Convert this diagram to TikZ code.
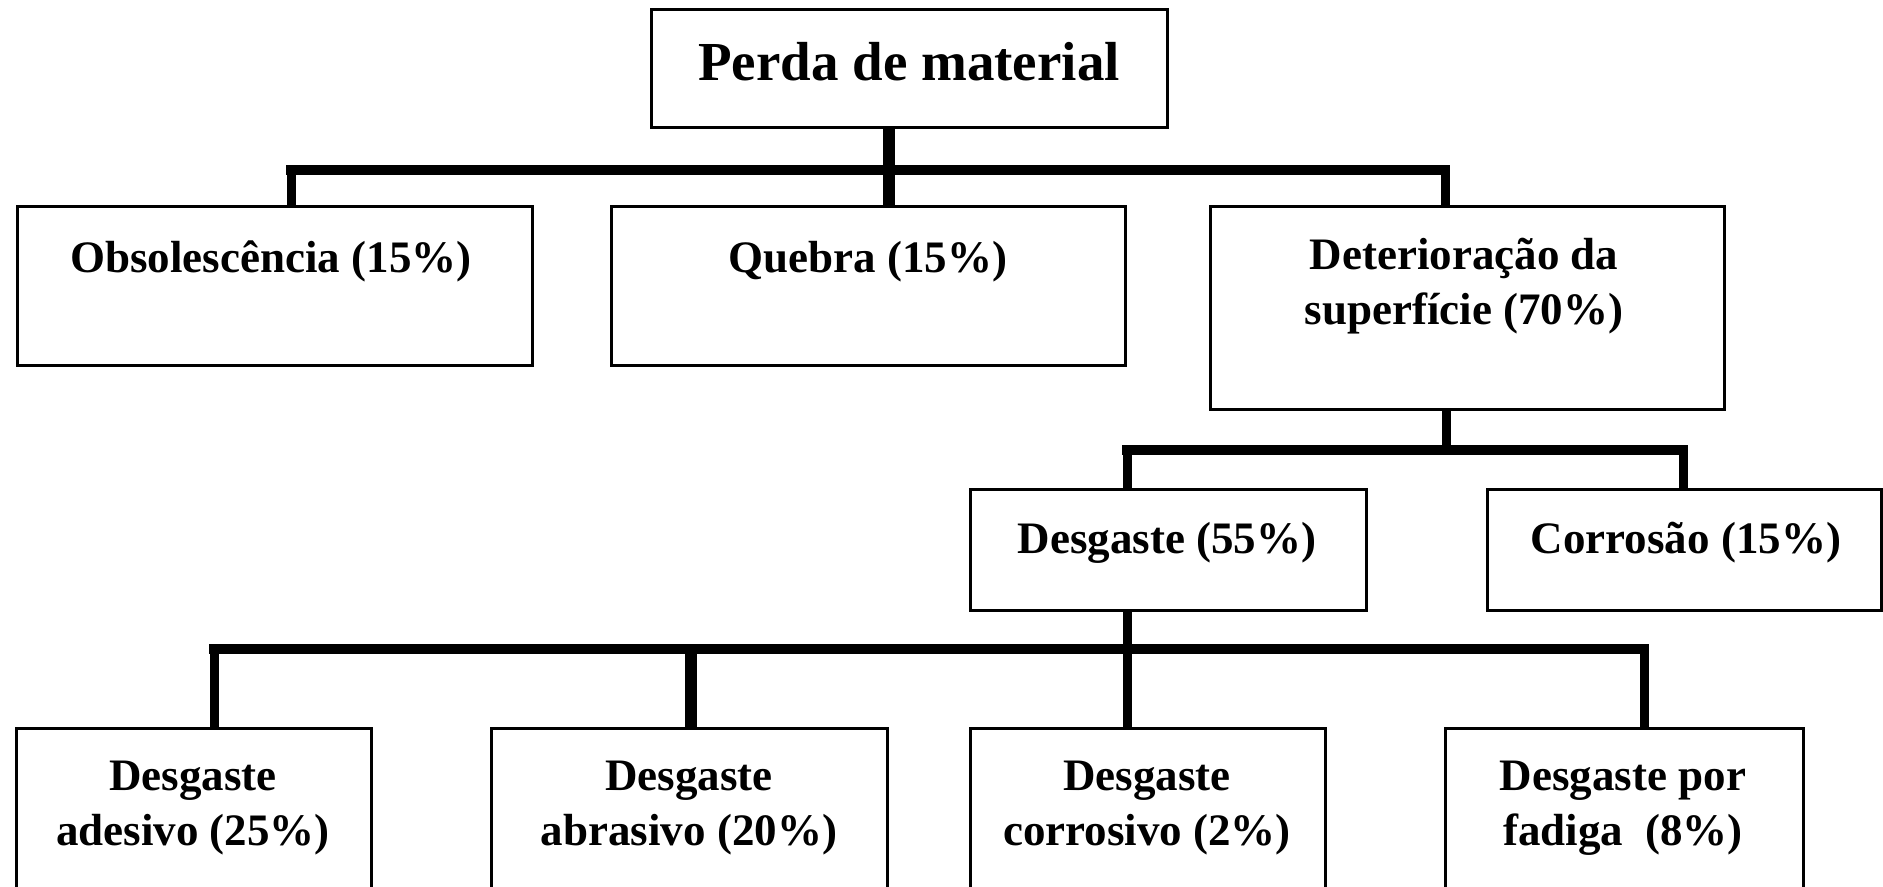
\documentclass[tikz,border=0pt]{standalone}
\usepackage{fontspec}
\setmainfont{Liberation Serif}
\newcommand\twoline[2]{\begin{tabular}[t]{@{}c@{}}#1\\#2\end{tabular}}
\begin{document}
\begin{tikzpicture}[x=0.5pt,y=-0.5pt,
  box/.style={draw=black, line width=1.5pt, inner sep=0pt, rectangle},
  lbl/.style={anchor=base, inner sep=0pt, font=\fontsize{22.5}{27.5}\selectfont\bfseries},
  ttl/.style={anchor=base, inner sep=0pt, font=\fontsize{27.5}{33}\selectfont\bfseries},
  vline/.style={line width=4.5pt},
  vthick/.style={line width=6pt},
  hbar/.style={line width=5pt, line cap=rect}]
\useasboundingbox (0,0) rectangle (1883,887);
\clip (0,0) rectangle (1883,887);

% boxes
\node[box, minimum width=258pt, minimum height=59pt] (top) at (909,69) {};
\node[box, minimum width=257.5pt, minimum height=79.5pt] (obs) at (274.5,286.5) {};
\node[box, minimum width=257pt, minimum height=79.5pt] (queb) at (868,286.5) {};
\node[box, minimum width=257pt, minimum height=101pt] (det) at (1467,308) {};
\node[box, minimum width=198pt, minimum height=60.5pt] (desg) at (1168,549.5) {};
\node[box, minimum width=197pt, minimum height=60.5pt] (corr) at (1684,549.5) {};
\node[box, minimum width=177.5pt, minimum height=101pt] (ades) at (193.5,829) {};
\node[box, minimum width=198pt, minimum height=101pt] (abra) at (689,829) {};
\node[box, minimum width=177.5pt, minimum height=101pt] (corv) at (1147.5,829) {};
\node[box, minimum width=179pt, minimum height=101pt] (fadi) at (1624,829) {};

% texts
\node[ttl] (ttop) at (909,81) {Perda de material};
\node[lbl] (tobs) at (271,273) {Obsolescência (15\%)};
\node[lbl] (tqueb) at (868,273) {Quebra (15\%)};
\node[lbl] (tdet) at (1464,270) {\twoline{Deterioração da}{superfície (70\%)}};
\node[lbl] (tdesg) at (1167,553) {Desgaste (55\%)};
\node[lbl] (tcorr) at (1686,553) {Corrosão (15\%)};
\node[lbl] (tades) at (193,790) {\twoline{Desgaste}{adesivo (25\%)}};
\node[lbl] (tabra) at (689,790) {\twoline{Desgaste}{abrasivo (20\%)}};
\node[lbl] (tcorv) at (1147,790) {\twoline{Desgaste}{corrosivo (2\%)}};
\node[lbl] (tfadi) at (1623,790) {\twoline{Desgaste por}{fadiga\ \ (8\%)}};

% junction coordinates
\coordinate (j1) at (889,170);
\coordinate (j1l) at (291,170);
\coordinate (j1r) at (1445,170);
\coordinate (j2) at (1446,450);
\coordinate (j2l) at (1127,450);
\coordinate (j2r) at (1683,450);
\coordinate (j3) at (1127,649);
\coordinate (j3a) at (214,649);
\coordinate (j3b) at (691,649);
\coordinate (j3d) at (1644,649);

% level 1
\draw[vthick] (top.south -| j1) -- (j1);
\draw[hbar] (j1l) -- (j1r);
\draw[vline] (j1l) -- (j1l |- obs.north);
\draw[vthick] (j1) -- (j1 |- queb.north);
\draw[vline] (j1r) -- (j1r |- det.north);

% level 2
\draw[vline] (det.south -| j2) -- (j2);
\draw[hbar] (j2l) -- (j2r);
\draw[vline] (j2l) -- (j2l |- desg.north);
\draw[vline] (j2r) -- (j2r |- corr.north);

% level 3
\draw[vline] (desg.south -| j3) -- (j3);
\draw[hbar] (j3a) -- (j3d);
\draw[vline] (j3a) -- (j3a |- ades.north);
\draw[vthick] (j3b) -- (j3b |- abra.north);
\draw[vline] (j3) -- (j3 |- corv.north);
\draw[vline] (j3d) -- (j3d |- fadi.north);
\end{tikzpicture}
\end{document}
